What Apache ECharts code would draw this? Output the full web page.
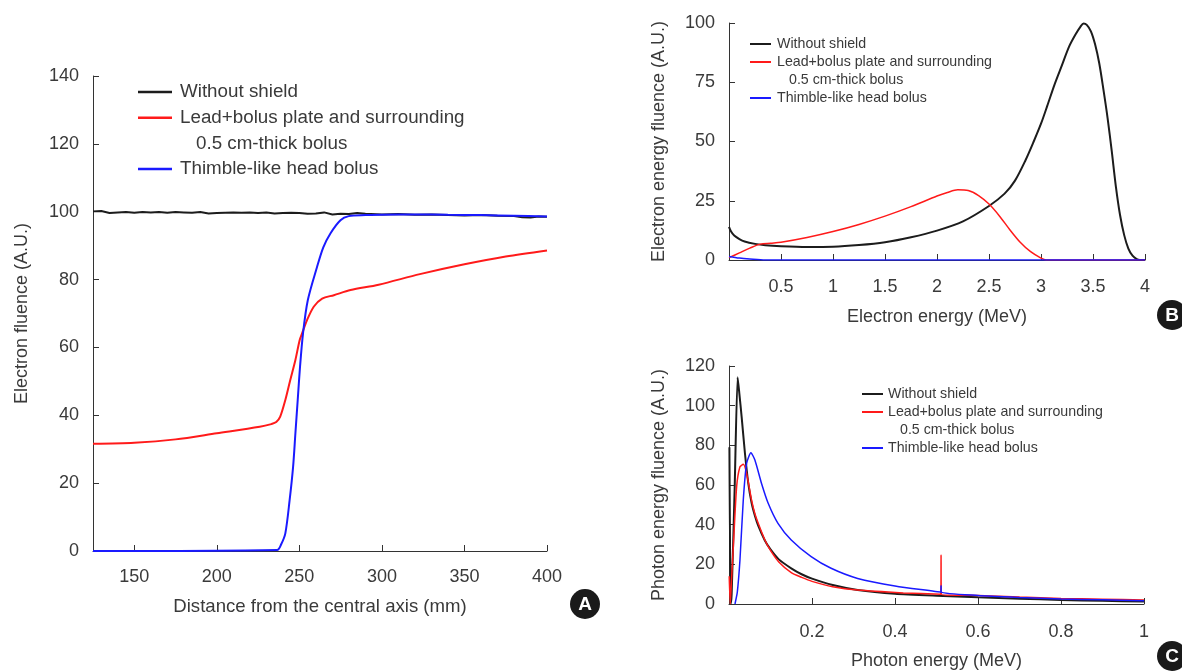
<!DOCTYPE html>
<html>
<head>
<meta charset="utf-8">
<script src="https://cdn.jsdelivr.net/npm/echarts@6/dist/echarts.min.js"></script>
<style>
  html, body { margin: 0; padding: 0; background: #fff; }
  #main { width: 1182px; height: 671px; }
</style>
</head>
<body>
<div id="main"></div>
<script>
// ---- panel A: electron fluence vs distance ----
var legendNames = ['Without shield', 'Lead+bolus plate and surrounding', 'Thimble-like head bolus'];
var legendSub = '0.5 cm-thick bolus';

var ticksA = [150, 200, 250, 300, 350, 400];
var distBlackA = [125, 130, 135, 140, 145, 150, 155, 160, 165, 170, 175, 180, 185, 190, 195, 200, 205, 210, 215, 220, 225, 230, 235, 240, 245, 250, 255, 260, 265, 270, 275, 280, 285, 290, 300, 310, 320, 330, 340, 350, 360, 370, 380, 385, 390, 395, 400];
var fluBlackA = [100.1, 100.2, 99.6, 99.8, 99.9, 99.7, 99.9, 99.8, 99.9, 99.7, 99.9, 99.8, 99.7, 99.9, 99.5, 99.6, 99.7, 99.8, 99.7, 99.8, 99.6, 99.8, 99.5, 99.6, 99.7, 99.6, 99.4, 99.5, 99.8, 99.2, 99.4, 99.3, 99.6, 99.4, 99.2, 99.3, 99.1, 99.2, 99.0, 98.9, 99.0, 98.8, 98.7, 98.4, 98.3, 98.6, 98.5];
var distRedA = [125, 150, 175, 200, 226, 233, 236, 238.4, 241.5, 244.5, 247.6, 250.2, 251.6, 254.6, 258.7, 263.8, 270.9, 281, 298, 323, 350, 375, 400];
var fluRedA = [31.6, 31.9, 32.9, 34.7, 36.6, 37.4, 38.0, 39.6, 44.5, 50.4, 56.3, 62.2, 64.1, 68, 72, 74.4, 75.4, 76.9, 78.5, 81.6, 84.5, 86.8, 88.6];
var distBlueA = [125, 236.5, 239, 241.5, 244.1, 246.2, 247.6, 249, 250.4, 252.2, 255.1, 260.7, 264.5, 268.8, 274.9, 279.9, 290, 300, 320, 340, 360, 380, 400];
var fluBlueA = [0, 0.3, 2, 5.2, 15, 24.8, 34.7, 44.5, 54.3, 64.1, 73.9, 83.7, 89.5, 93.6, 97.5, 98.7, 99.0, 99.1, 99.2, 99.1, 99.0, 98.8, 98.6];

// ---- panel B: electron energy spectrum ----
var eBlackB = [0, 0.02, 0.05, 0.1, 0.15, 0.25, 0.35, 0.5, 0.75, 1.0, 1.25, 1.5, 1.75, 2.0, 2.25, 2.5, 2.65, 2.75, 2.85, 2.93, 3.0, 3.06, 3.13, 3.2, 3.27, 3.33, 3.38, 3.41, 3.44, 3.48, 3.52, 3.56, 3.6, 3.64, 3.68, 3.72, 3.76, 3.8, 3.84, 3.88, 3.92, 3.95, 4.0];
var fluBlackB = [14, 12, 10.3, 8.8, 7.8, 6.8, 6.2, 5.8, 5.5, 5.6, 6.3, 7.5, 9.6, 12.4, 16.3, 22.8, 28, 33.5, 42, 50, 57.5, 65, 74, 82, 90, 95, 98.5, 99.8, 99.2, 96.5, 91, 83, 72, 60, 46, 31, 19, 10.5, 4.8, 1.8, 0.4, 0, 0];
var eRedB = [0, 0.1, 0.2, 0.3, 0.4, 0.5, 0.75, 1.0, 1.25, 1.5, 1.75, 2.0, 2.1, 2.2, 2.3, 2.4, 2.5, 2.6, 2.7, 2.8, 2.9, 3.0, 3.05, 4.0];
var fluRedB = [1, 3, 5, 6.7, 7.1, 7.5, 9.5, 12, 15, 18.5, 22.5, 27, 28.5, 29.6, 29.3, 27.2, 23.6, 18.6, 12.8, 7.5, 3.5, 0.8, 0, 0];
var eBlueB = [0, 0.1, 0.2, 0.35, 4.0];
var fluBlueB = [1.5, 0.8, 0.4, 0, 0];

// ---- panel C: photon energy spectrum ----
var eBlackC = [0.001, 0.004, 0.0064, 0.0136, 0.0208, 0.025, 0.0304, 0.0384, 0.0464, 0.0544, 0.0624, 0.0704, 0.0864, 0.1, 0.12, 0.15, 0.175, 0.2, 0.25, 0.31, 0.4, 0.5, 0.6, 0.7, 0.8, 0.9, 1.0];
var fluBlackC = [79, 0, 5, 58, 114.3, 106, 94.5, 76, 61, 51, 44.5, 39.5, 32, 27.5, 22.5, 18, 15, 12.8, 9.6, 7.1, 5.2, 4.2, 3.4, 2.7, 2.0, 1.6, 1.2];
var eRedC = [0.0005, 0.003, 0.006, 0.0104, 0.0184, 0.0264, 0.0344, 0.0424, 0.0544, 0.0624, 0.0704, 0.0864, 0.1, 0.12, 0.15, 0.175, 0.2, 0.25, 0.31, 0.42, 0.5105, 0.511, 0.5115, 0.6, 0.7, 0.8, 0.9, 1.0];
var fluRedC = [14, 0, 12, 28.9, 59.2, 69.2, 70.4, 65.9, 52.4, 45.5, 40.7, 32.3, 27, 21.2, 15.8, 13.4, 11.4, 8.7, 7.0, 5.6, 4.9, 24.7, 4.9, 4.3, 3.5, 2.8, 2.4, 2.0];
var eBlueC = [0.0144, 0.02, 0.0264, 0.0344, 0.0424, 0.0528, 0.0624, 0.0784, 0.0944, 0.118, 0.15, 0.198, 0.246, 0.31, 0.4, 0.5105, 0.511, 0.5115, 0.6, 0.7, 0.8, 0.9, 1.0];
var fluBlueC = [0, 6, 22.2, 52.4, 70.9, 76.3, 72.6, 60.8, 50.8, 40.7, 32.3, 23.9, 18, 12.9, 9.1, 6.0, 9.2, 6.0, 4.3, 3.3, 2.5, 2.1, 1.7];

var colors = ['#1c1c1c', '#ff1a1a', '#1a1aff'];
var FONT = 'Liberation Sans';
var TXT = '#3a3a3a';

function pairs(xs, ys) {
    return xs.map(function (x, i) { return [x, ys[i]]; });
}

function xAx(idx, min, max, name, gap, margin, extra) {
    var ax = {
        type: 'value', gridIndex: idx, min: min, max: max,
        name: name, nameLocation: 'middle', nameGap: gap,
        nameTextStyle: { fontFamily: FONT, fontSize: 18, color: TXT },
        axisLine: { lineStyle: { color: '#333', width: 1 } },
        axisTick: { inside: true, length: 6, lineStyle: { color: '#333' } },
        axisLabel: { fontFamily: FONT, fontSize: 18, color: TXT, margin: margin },
        splitLine: { show: false }
    };
    return Object.assign(ax, extra);
}

function yAx(idx, max, interval, name, gap) {
    return {
        type: 'value', gridIndex: idx, min: 0, max: max, interval: interval,
        name: name, nameLocation: 'middle', nameGap: gap,
        nameTextStyle: { fontFamily: FONT, fontSize: 18, color: TXT },
        axisLine: { show: true, lineStyle: { color: '#333', width: 1 } },
        axisTick: { show: true, inside: true, length: 6, lineStyle: { color: '#333' } },
        axisLabel: { fontFamily: FONT, fontSize: 18, color: TXT, margin: 14 },
        splitLine: { show: false }
    };
}

function line(name, idx, data, c, w, smooth) {
    return {
        name: name, type: 'line', xAxisIndex: idx, yAxisIndex: idx,
        data: data, showSymbol: false, symbol: 'none',
        smooth: smooth || false,
        lineStyle: { color: c, width: w }, itemStyle: { color: c },
        animation: false
    };
}

// legend drawn with plain graphic items: line swatch + text (second line indented)
function legendBlock(x0, y0, len, step, size, textX, indent, lw) {
    var g = [];
    var rows = [y0, y0 + step, y0 + step * 3];
    for (var i = 0; i < 3; i++) {
        g.push({ type: 'line', shape: { x1: x0, y1: rows[i], x2: x0 + len, y2: rows[i] },
                 style: { stroke: colors[i], lineWidth: lw } });
        g.push({ type: 'text', x: textX, y: rows[i],
                 style: { text: legendNames[i], fontFamily: FONT, fontSize: size, fill: TXT, verticalAlign: 'middle' } });
    }
    g.push({ type: 'text', x: textX + indent, y: y0 + step * 2,
             style: { text: legendSub, fontFamily: FONT, fontSize: size, fill: TXT, verticalAlign: 'middle' } });
    return g;
}

function badge(cx, cy, letter) {
    return [
        { type: 'circle', shape: { cx: cx, cy: cy, r: 15 }, style: { fill: '#1a1a1a' } },
        { type: 'text', x: cx, y: cy + 1, style: { text: letter, fontFamily: FONT, fontWeight: 'bold', fontSize: 19, fill: '#fff', align: 'center', verticalAlign: 'middle' } }
    ];
}

var myChart = echarts.init(document.getElementById('main'), null, { renderer: 'canvas' });

var option = {
    backgroundColor: '#fff',
    animation: false,
    grid: [
        { left: 93, top: 76, width: 454, height: 475 },
        { left: 729, top: 23, width: 416, height: 237 },
        { left: 729, top: 366, width: 415, height: 238 }
    ],
    xAxis: [
        xAx(0, 125, 400, 'Distance from the central axis (mm)', 46, 17, {
            nameTextStyle: { fontFamily: FONT, fontSize: 18.6, color: TXT },
            axisTick: { inside: true, length: 6, lineStyle: { color: '#333' }, customValues: ticksA },
            axisLabel: { fontFamily: FONT, fontSize: 18, color: TXT, margin: 17, customValues: ticksA }
        }),
        xAx(1, 0, 4, 'Electron energy (MeV)', 48, 18, { interval: 0.5 }),
        xAx(2, 0, 1, 'Photon energy (MeV)', 48, 19, { interval: 0.2 })
    ],
    yAxis: [
        yAx(0, 140, 20, 'Electron fluence (A.U.)', 62),
        yAx(1, 100, 25, 'Electron energy fluence (A.U.)', 61),
        yAx(2, 120, 20, 'Photon energy fluence (A.U.)', 61)
    ],
    series: [
        line(legendNames[0], 0, pairs(distBlackA, fluBlackA), colors[0], 2),
        line(legendNames[1], 0, pairs(distRedA, fluRedA), colors[1], 2, 0.3),
        line(legendNames[2], 0, pairs(distBlueA, fluBlueA), colors[2], 2, 0.3),
        line(legendNames[0], 1, pairs(eBlackB, fluBlackB), colors[0], 2, 0.3),
        line(legendNames[1], 1, pairs(eRedB, fluRedB), colors[1], 1.5, 0.3),
        line(legendNames[2], 1, pairs(eBlueB, fluBlueB), colors[2], 1.5, 0.3),
        line(legendNames[0], 2, pairs(eBlackC, fluBlackC), colors[0], 2, 0.2),
        line(legendNames[1], 2, pairs(eRedC, fluRedC), colors[1], 1.5, 0.2),
        line(legendNames[2], 2, pairs(eBlueC, fluBlueC), colors[2], 1.5, 0.2)
    ],
    graphic: [].concat(
        legendBlock(138, 92, 34, 25.7, 18.8, 180, 16, 2.5),
        legendBlock(750, 44, 21, 18, 14.2, 777, 12, 2),
        legendBlock(862, 394, 21, 18, 14.2, 888, 12, 2),
        badge(585, 604, 'A'),
        badge(1172, 315, 'B'),
        badge(1172, 656, 'C')
    )
};

// x labels: hide the 0 at the origin for B and C
option.xAxis[1].axisLabel.showMinLabel = false;
option.xAxis[2].axisLabel.showMinLabel = false;

myChart.setOption(option);
</script>
</body>
</html>
